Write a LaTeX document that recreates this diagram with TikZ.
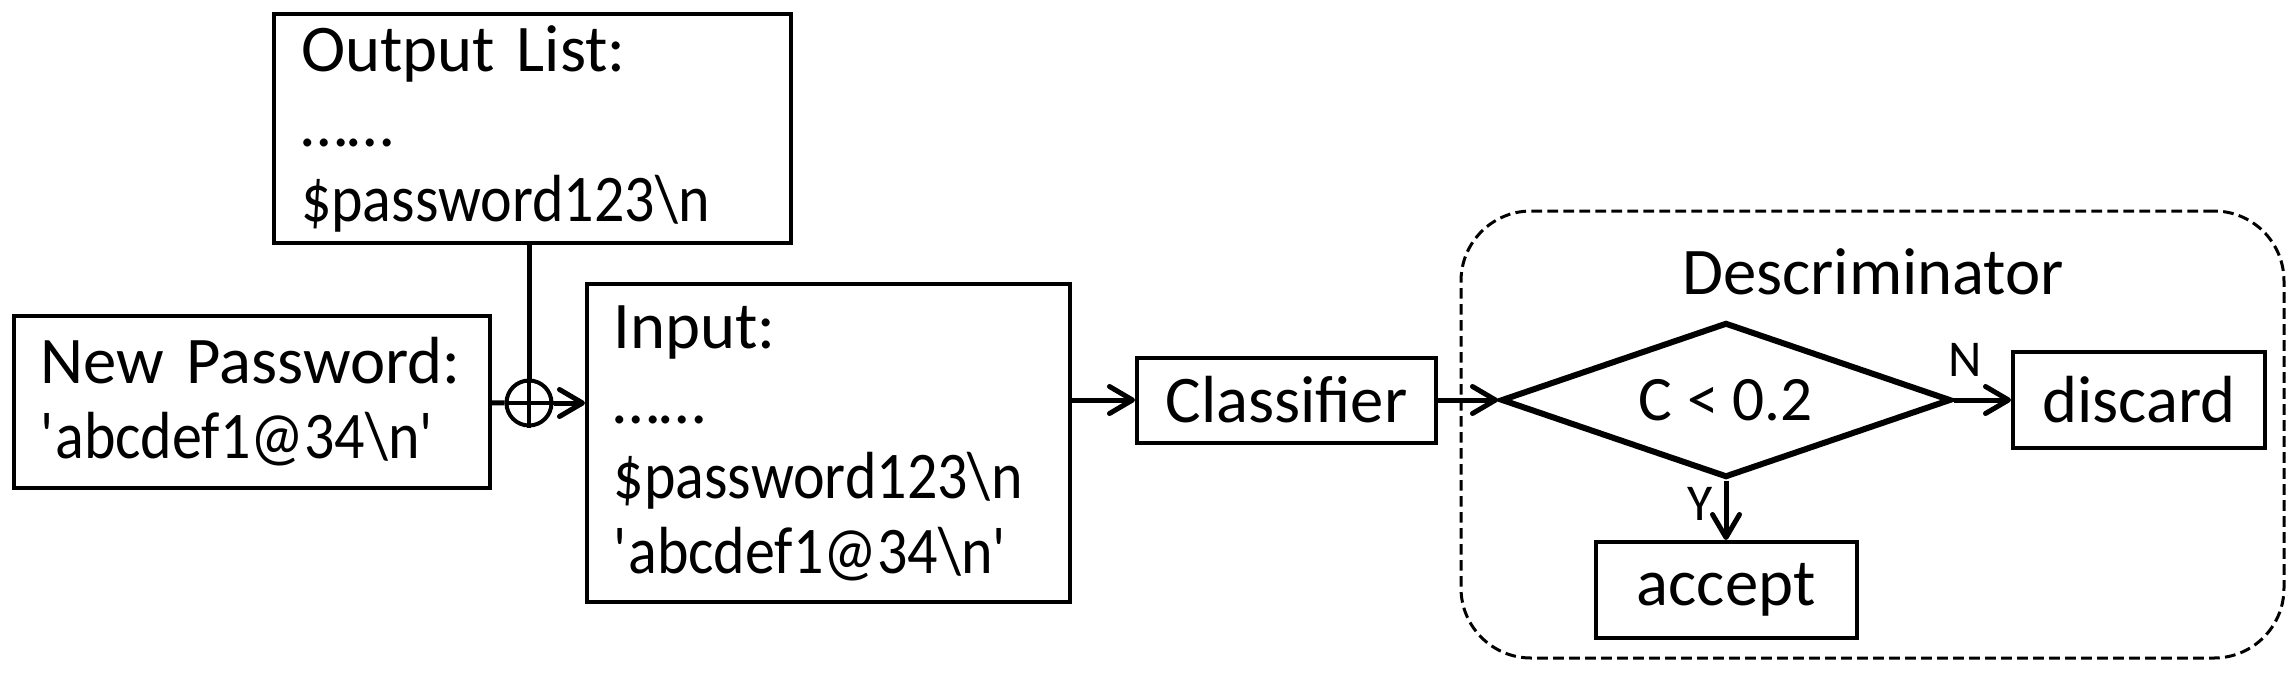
\documentclass[tikz,border=0pt]{standalone}
\usepackage{fontspec}
\setmainfont{Carlito}
\newfontfamily\pwfont{Carlito}[FakeStretch=0.9]
\usetikzlibrary{shapes.geometric,arrows.meta}

\newcommand{\pwlist}{\pwfont\$password123\textbackslash n}
\newcommand{\pwnew}{\pwfont\textquotesingle abcdef1@34\textbackslash n\textquotesingle}

\begin{document}
\begin{tikzpicture}[x=0.3pt, y=-0.3pt,
  every node/.style={font=\fontsize{20}{22.5}\selectfont},
  box/.style={draw, line width=1.2pt, inner sep=0pt},
  listbox/.style={box, align=left, inner xsep=8pt},
  line/.style={line width=1.5pt},
  arr/.style={line, -{Straight Barb[length=6.9pt,width=8.1pt,round]}},
  lbl/.style={font=\fontsize{15.5}{17}\selectfont}]
  \useasboundingbox (0,0) rectangle (2294,674);
  \node[draw, line width=0.9pt, dash pattern=on 3.2pt off 1.6pt, rounded corners=21pt,
    minimum width=246.9pt, minimum height=134.1pt] (group) at (1872.5,434.5) {};
  \node[anchor=base] (title) at (1873,294) {Descriminator};
  \node[listbox, text width=138.9pt, minimum height=68.7pt] (outlist) at (532.5,128.5)
    {Output List:\\……\\\pwlist};
  \node[listbox, text width=126.8pt, minimum height=51.6pt] (newpw) at (252,402)
    {New Password:\\\pwnew};
  \node[listbox, text width=128.9pt, minimum height=95.4pt] (input) at (828.5,443)
    {Input:\\……\\\pwlist\\\pwnew};
  \node[circle, draw, line width=1.2pt, minimum size=13.5pt, inner sep=0pt] (sum) at (529,403) {};
  \node[box, minimum width=89.7pt, minimum height=25.5pt] (cls) at (1286.5,400) {Classifier};
  \node[draw, diamond, aspect=2.9, line width=1.8pt, inner sep=0pt, minimum width=135pt,
    minimum height=46.5pt, font=\fontsize{19}{21}\selectfont] (test) at (1726,400) {C < 0.2};
  \node[box, minimum width=75.6pt, minimum height=28.8pt] (discard) at (2139,400) {discard};
  \node[box, minimum width=78.3pt, minimum height=28.8pt] (accept) at (1726,590) {accept};

  \draw[line] (newpw) -- (sum);
  \draw[line] (sum |- outlist.south) -- (sum);
  \draw[line width=1.2pt] (sum.north) -- (sum.south) (sum.west) -- (sum.east);
  \draw[arr] (sum) -- (input.west |- sum);
  \draw[arr] (input.east |- cls) -- (cls);
  \draw[arr] (cls) -- (test);
  \draw[arr] (test) -- node[lbl, above=3pt, pos=0.2] (nlab) {N} (discard);
  \draw[arr] (test) -- node[lbl, left, pos=0.4] (ylab) {Y} (accept);
\end{tikzpicture}
\end{document}
